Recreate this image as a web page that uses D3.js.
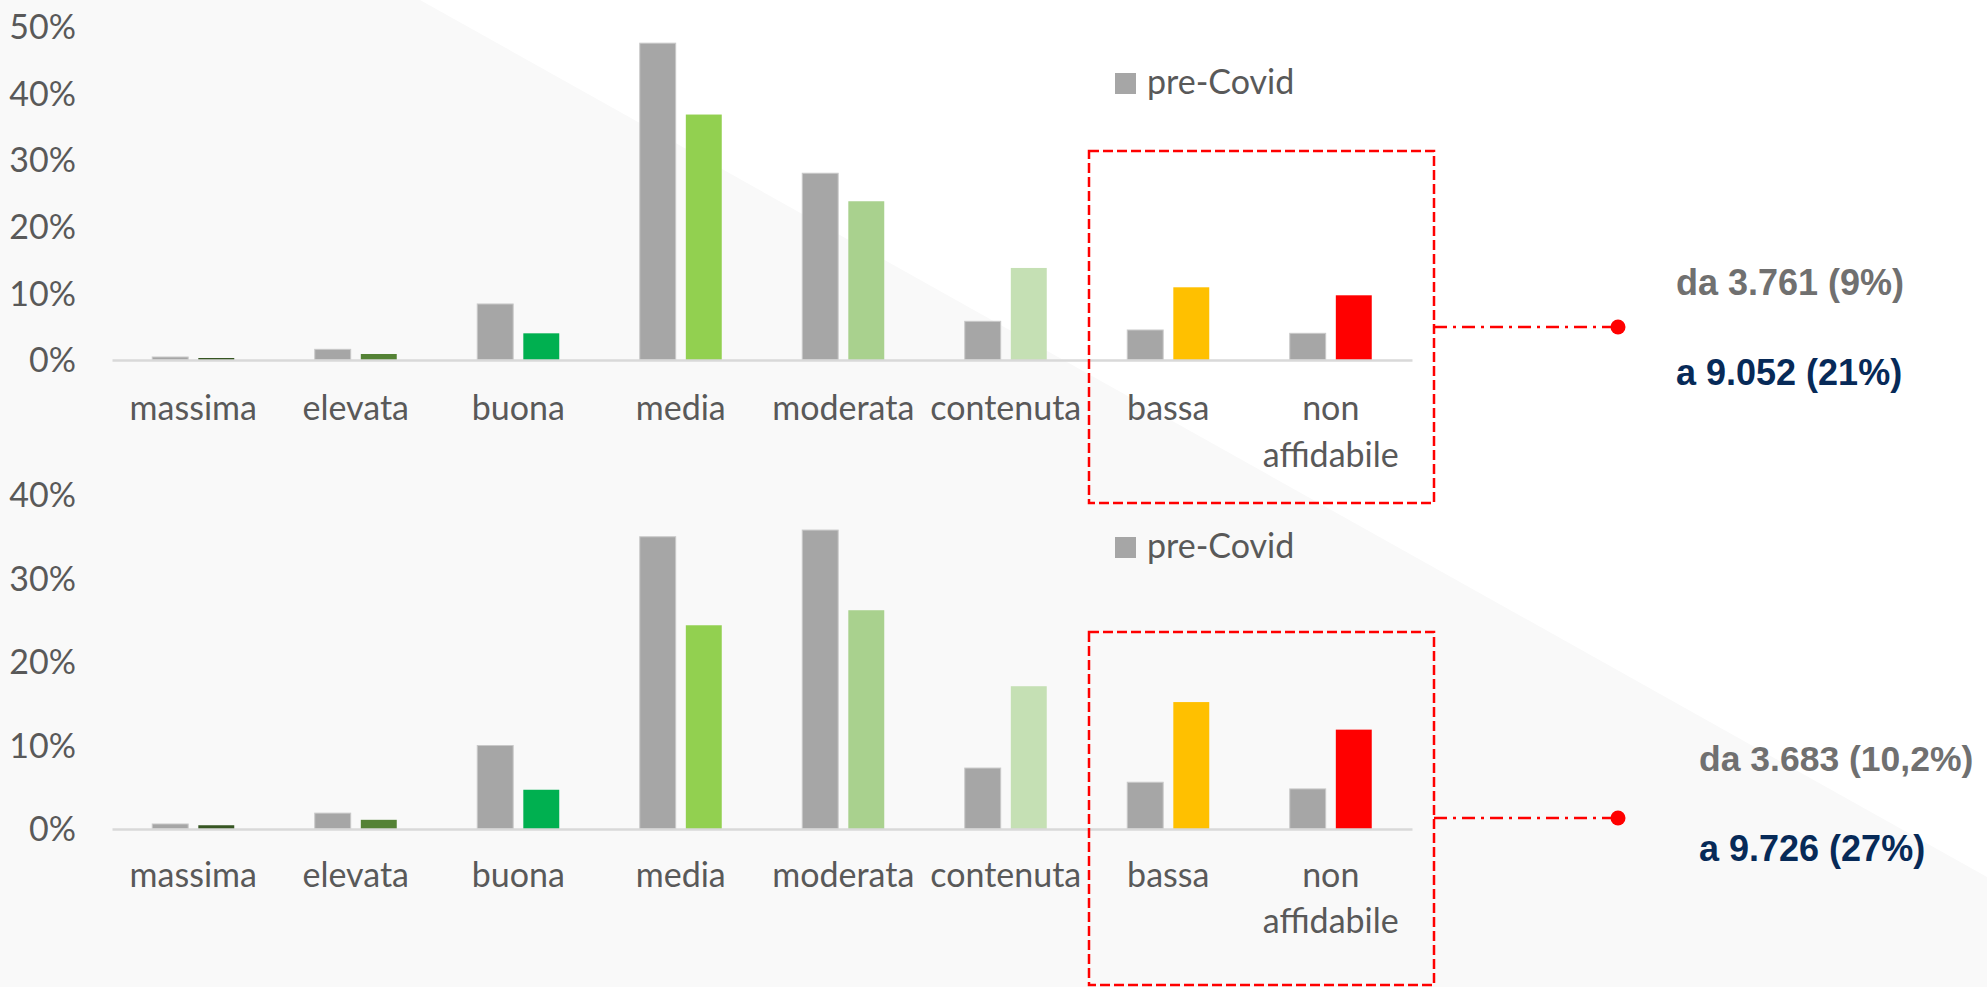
<!DOCTYPE html>
<html>
<head>
<meta charset="utf-8">
<script src="https://cdn.jsdelivr.net/npm/d3@7"></script>
<style>
  body { margin: 0; background: #ffffff; }
  svg { display: block; }
  .lbl { font-family: Lato, "Noto Sans", sans-serif; fill: #595959; }
  .note { font-family: "Liberation Sans", Arial, sans-serif; font-weight: bold; }
</style>
</head>
<body>
<script>
// Data
var categories = ["massima", "elevata", "buona", "media", "moderata", "contenuta", "bassa", "non affidabile"];
var series = ["pre-Covid", "post-Covid"];
var postColors = ["#375623", "#548235", "#00b050", "#92d050", "#a9d18e", "#c5e0b4", "#ffc000", "#ff0000"];

// top chart (%)
var topPre  = [0.45, 1.6, 8.4, 47.5, 28.0, 5.8, 4.5, 4.0];
var topPost = [0.3, 0.9, 4.0, 36.8, 23.8, 13.8, 10.9, 9.7];
var topTicks = [0, 10, 20, 30, 40, 50];
var topNotes = ["da 3.761 (9%)", "a 9.052 (21%)"];

// bottom chart (%)
var bottomPre  = [0.6, 1.9, 10.0, 35.0, 35.8, 7.3, 5.6, 4.8];
var bottomPost = [0.45, 1.1, 4.7, 24.4, 26.2, 17.1, 15.2, 11.9];
var bottomTicks = [0, 10, 20, 30, 40];
var bottomNotes = ["da 3.683 (10,2%)", "a 9.726 (27%)"];

var W = 1987, H = 987;

var svg = d3.select("body").append("svg")
  .attr("width", W)
  .attr("height", H);

// background: light grey area under the diagonal
svg.append("rect").attr("width", W).attr("height", H).attr("fill", "#ffffff");
svg.append("polygon")
  .attr("points", [[0, 0], [420, 0], [W, 877], [W, H], [0, H]].join(" "))
  .attr("fill", "#f9f9f9");

// shared x scales
var x0 = d3.scaleBand().domain(categories).range([112, 1412]);
var x1 = d3.scaleBand().domain(series).range([0, 82]).paddingInner(0.22);

function drawPanel(cfg) {
  var g = svg.append("g");

  var y = d3.scaleLinear()
    .domain([0, d3.max(cfg.ticks)])
    .range([cfg.base, cfg.top]);

  var rows = categories.map(function(c, i) {
    return { cat: c, values: [cfg.pre[i], cfg.post[i]], color: postColors[i] };
  });

  // y axis, labels only
  var yAxis = g.append("g")
    .attr("transform", "translate(82,0)")
    .call(d3.axisLeft(y).tickValues(cfg.ticks).tickSize(0).tickPadding(6)
      .tickFormat(function(d) { return d + "%"; }));
  yAxis.select(".domain").remove();
  yAxis.selectAll("text")
    .attr("class", "lbl")
    .attr("font-size", 34)
    .attr("dy", "0.35em");

  // bars
  var groups = g.selectAll(".cat")
    .data(rows)
    .enter()
    .append("g")
    .attr("class", "cat")
    .attr("transform", function(d) { return "translate(" + (x0(d.cat) + x0.bandwidth() / 2 - 41) + ",0)"; });

  groups.selectAll("rect")
    .data(function(d) {
      return d.values.map(function(v, j) {
        return { s: series[j], v: v, color: j === 0 ? "#a6a6a6" : d.color };
      });
    })
    .enter()
    .append("rect")
    .attr("x", function(d) { return x1(d.s); })
    .attr("y", function(d) { return y(d.v); })
    .attr("width", x1.bandwidth())
    .attr("height", function(d) { return cfg.base - y(d.v); })
    .attr("fill", function(d) { return d.color; })
    .attr("stroke", function(d) { return d.s === "pre-Covid" ? "#c9c9c9" : "none"; })
    .attr("stroke-width", 1);

  // x axis
  var xAxis = g.append("g")
    .attr("transform", "translate(0," + cfg.base + ")")
    .call(d3.axisBottom(x0).tickSize(0).tickSizeOuter(0));
  xAxis.select(".domain")
    .attr("stroke", "#d9d9d9")
    .attr("stroke-width", 2.5);
  xAxis.selectAll("text")
    .attr("class", "lbl")
    .attr("font-size", 34)
    .attr("y", cfg.labelY)
    .attr("dy", null)
    .each(function(d) {
      var words = d.split(" ");
      if (words.length > 1) {
        var t = d3.select(this).text(null);
        words.forEach(function(w, k) {
          t.append("tspan").attr("x", 0).attr("y", cfg.labelY + k * cfg.lineGap).text(w);
        });
      }
    });

  // legend
  var lg = g.append("g").attr("transform", "translate(1115," + cfg.legendY + ")");
  lg.append("rect").attr("width", 21).attr("height", 21).attr("fill", "#a6a6a6");
  lg.append("text").attr("class", "lbl").attr("font-size", 34)
    .attr("x", 32).attr("y", 21).text(series[0]);

  // dashed box round the two worst classes
  var bx = x0("bassa") + 2;
  g.append("rect")
    .attr("x", bx)
    .attr("y", cfg.boxTop)
    .attr("width", 345)
    .attr("height", cfg.boxBottom - cfg.boxTop)
    .attr("fill", "none")
    .attr("stroke", "#ff0000")
    .attr("stroke-width", 2.5)
    .attr("stroke-dasharray", "10,4");

  // connector + dot
  g.append("line")
    .attr("x1", bx + 345).attr("x2", 1617)
    .attr("y1", cfg.linkY).attr("y2", cfg.linkY)
    .attr("stroke", "#ff0000")
    .attr("stroke-width", 2.5)
    .attr("stroke-dasharray", "13,6,3,6");
  g.append("circle")
    .attr("cx", 1618).attr("cy", cfg.linkY).attr("r", 7.5)
    .attr("fill", "#ff0000");

  // notes
  g.append("text").attr("class", "note")
    .attr("x", cfg.noteX[0]).attr("y", cfg.noteY[0])
    .attr("font-size", cfg.noteSize[0])
    .attr("fill", "#707070")
    .text(cfg.notes[0]);
  g.append("text").attr("class", "note")
    .attr("x", cfg.noteX[1]).attr("y", cfg.noteY[1])
    .attr("font-size", cfg.noteSize[1])
    .attr("fill", "#072a58")
    .text(cfg.notes[1]);
}

drawPanel({
  pre: topPre, post: topPost, ticks: topTicks,
  base: 360, top: 26.5, labelY: 60, lineGap: 47,
  legendY: 73, boxTop: 151, boxBottom: 503, linkY: 327,
  notes: topNotes, noteX: [1676, 1676], noteY: [295, 385], noteSize: [36, 36]
});

drawPanel({
  pre: bottomPre, post: bottomPost, ticks: bottomTicks,
  base: 829, top: 495, labelY: 58, lineGap: 46,
  legendY: 537, boxTop: 632, boxBottom: 985, linkY: 818,
  notes: bottomNotes, noteX: [1699, 1699], noteY: [771, 861], noteSize: [35.5, 36]
});
</script>
</body>
</html>
